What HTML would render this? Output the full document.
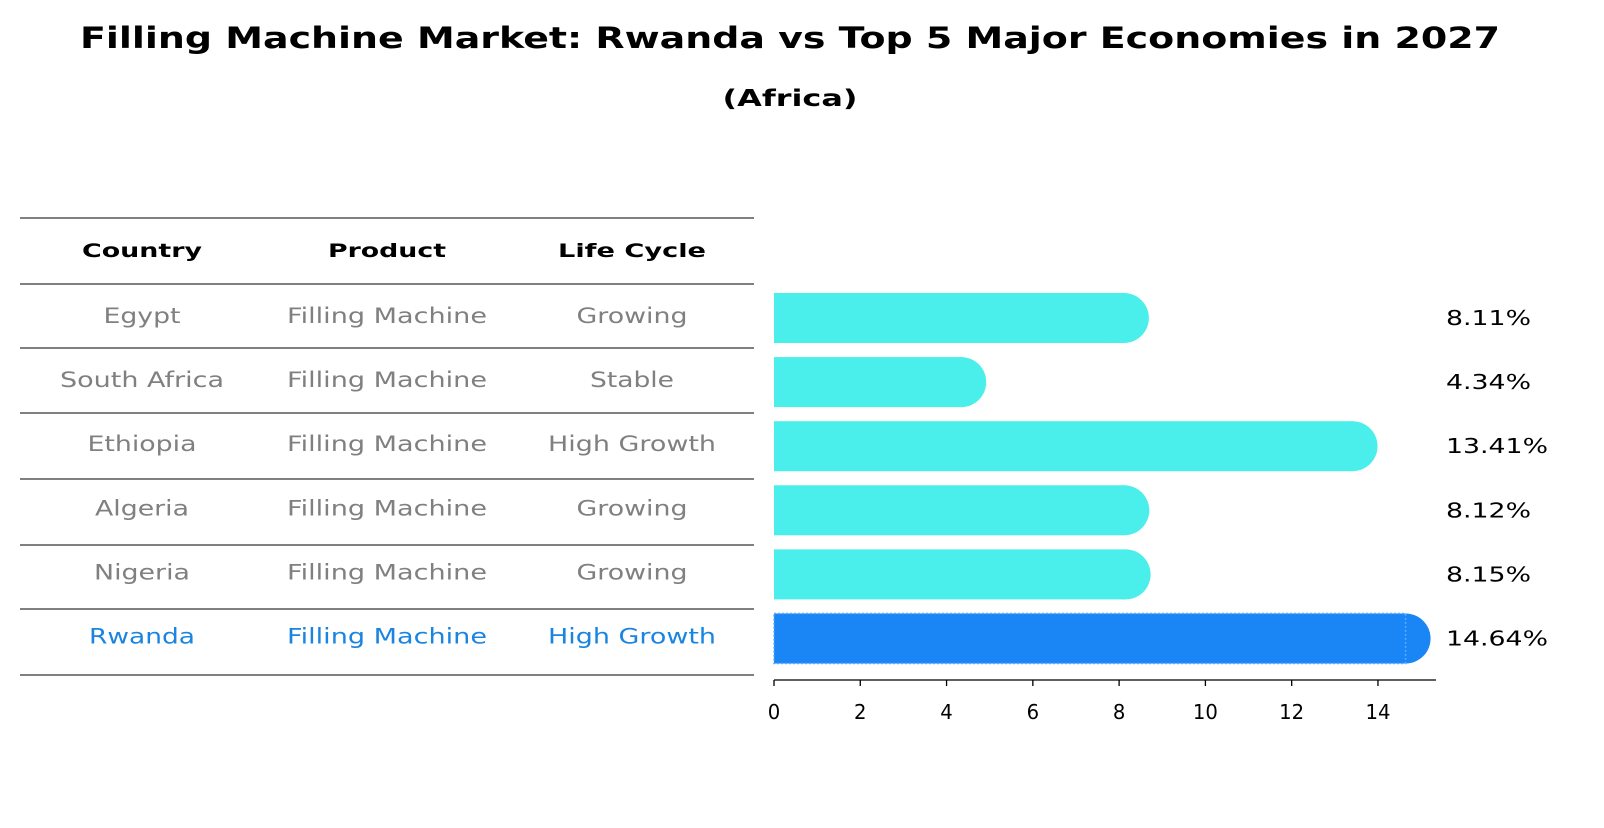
<!DOCTYPE html>
<html><head><meta charset="utf-8"><style>
body{margin:0;background:#fff;font-family:"Liberation Sans","DejaVu Sans",sans-serif;}
svg text{font-family:"DejaVu Sans","Liberation Sans",sans-serif;}
</style></head><body>
<svg id="chart" width="1604" height="823" xmlns="http://www.w3.org/2000/svg">
<text x="790" y="48" text-anchor="middle" font-size="29" font-weight="bold" textLength="1420" lengthAdjust="spacingAndGlyphs">Filling Machine Market: Rwanda vs Top 5 Major Economies in 2027</text>
<text x="790" y="106" text-anchor="middle" font-size="23" font-weight="bold" textLength="135" lengthAdjust="spacingAndGlyphs">(Africa)</text>
<g id="table"></g>
<g id="bars"></g>
<g id="axis"></g>
</svg>
<script>
const countries=["Egypt","South Africa","Ethiopia","Algeria","Nigeria","Rwanda"];
const products=["Filling Machine","Filling Machine","Filling Machine","Filling Machine","Filling Machine","Filling Machine"];
const lifeCycles=["Growing","Stable","High Growth","Growing","Growing","High Growth"];
const values=[8.11,4.34,13.41,8.12,8.15,14.64];
const ticks=[0,2,4,6,8,10,12,14];
const NS="http://www.w3.org/2000/svg";
const x0=774,scale=43.14;
const xs=v=>x0+v*scale;
const rowY=i=>318+i*64.1;
const widthMap={"Egypt":77,"South Africa":164,"Ethiopia":109,"Algeria":94,"Nigeria":96,"Rwanda":106,"Filling Machine":200,"Growing":111,"Stable":84,"High Growth":168};
function mk(tag,attrs,parent,txt){const e=document.createElementNS(NS,tag);for(const k in attrs)e.setAttribute(k,attrs[k]);if(txt!==undefined)e.textContent=txt;parent.appendChild(e);return e;}
const table=document.getElementById('table');
const lineYs=[218,284,348,413,479,545,609,675];
lineYs.forEach(y=>{const l=mk('line',{x1:20,x2:754,y1:y,y2:y,stroke:'#000','stroke-width':1},table);

});
const colX=[142,387,632];
const headW=[120,118,148];
["Country","Product","Life Cycle"].forEach((h,j)=>{const t=mk('text',{x:colX[j],y:257,'text-anchor':'middle','font-size':19,'font-weight':'bold',textLength:headW[j],lengthAdjust:'spacingAndGlyphs'},table,h);

});
countries.forEach((c,i)=>{
 const col=i===5?'#1a85e0':'#808080';
 [c,products[i],lifeCycles[i]].forEach((v,j)=>{const t=mk('text',{x:colX[j],y:rowY(i)+5,'text-anchor':'middle','font-size':21,fill:col,textLength:widthMap[v]||100,lengthAdjust:'spacingAndGlyphs'},table,v);
 
 });
});
const bars=document.getElementById('bars');
values.forEach((v,i)=>{
 const col=i===5?'#1a85f5':'#4aeeea';
 const y=rowY(i),h=50;
 const g=mk('g',{},bars);
 
 
 mk('rect',{x:x0,y:y-h/2,width:xs(v)-x0,height:h,fill:col},g);
 mk('circle',{cx:xs(v),cy:y,r:h/2,fill:col},g);
 if(i===5){mk('rect',{x:x0,y:y-h/2,width:xs(v)-x0,height:h,fill:'none',stroke:'#5aa8ff','stroke-width':1.5,'stroke-dasharray':'2 2'},g);}
 const lbl=v.toFixed(2)+'%';
 const t=mk('text',{x:1446,y:y+7,'font-size':20,fill:'#000',textLength:lbl.length*17,lengthAdjust:'spacingAndGlyphs'},bars,lbl);
 
 
});
const axis=document.getElementById('axis');
mk('line',{x1:x0,x2:1436,y1:680,y2:680,stroke:'#000','stroke-width':1.3},axis);
ticks.forEach(tk=>{
 mk('line',{x1:xs(tk),x2:xs(tk),y1:680,y2:686,stroke:'#000','stroke-width':1.3},axis);
 const s=String(tk);
 const t=mk('text',{x:xs(tk),y:719,'text-anchor':'middle','font-size':20,textLength:s.length*12.5,lengthAdjust:'spacingAndGlyphs'},axis,s);
 
 
});
</script>
</body></html>
